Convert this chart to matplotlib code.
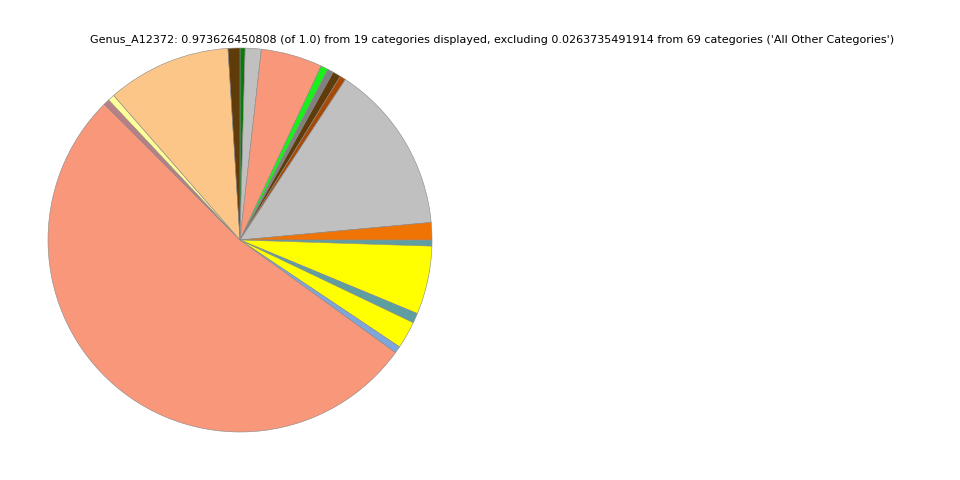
import matplotlib
matplotlib.use("Agg")
import matplotlib.pyplot as plt

title = ("Genus_A12372: 0.973626450808 (of 1.0) from 19 categories displayed, "
         "excluding 0.0263735491914 from 69 categories ('All Other Categories')")

# percent share of the displayed pie, clockwise from 12 o'clock
shares = [0.43, 1.35, 5.17, 0.62, 0.50, 0.68, 0.50, 14.29, 1.47, 0.50,
          5.75, 0.83, 2.31, 0.58, 52.53, 0.50, 0.56, 10.43, 1.00]
colors = ["#0A7A0A", "#C0C0C0", "#F8977A", "#19F019", "#808080", "#603C0B",
          "#A84A06", "#C0C0C0", "#F07404", "#5F9EA0", "#FFFF00", "#5F9EA0",
          "#FFFF00", "#7EA6DA", "#F8977A", "#B77F86", "#FFFF99", "#FDC689",
          "#603C0B"]

fig = plt.figure(figsize=(9.6, 4.8), dpi=100)
ax = fig.add_axes([48/960, 48/480, 384/960, 384/480])
ax.pie(shares, colors=colors, startangle=90, counterclock=False,
       wedgeprops=dict(edgecolor="#888888", linewidth=0.4))
ax.set_aspect("equal")
ax.set_xlim(-1, 1)
ax.set_ylim(-1, 1)
fig.text(492/960, 1 - 40/480, title, ha="center", va="center", fontsize=8)
fig.savefig("out.png", dpi=100)
